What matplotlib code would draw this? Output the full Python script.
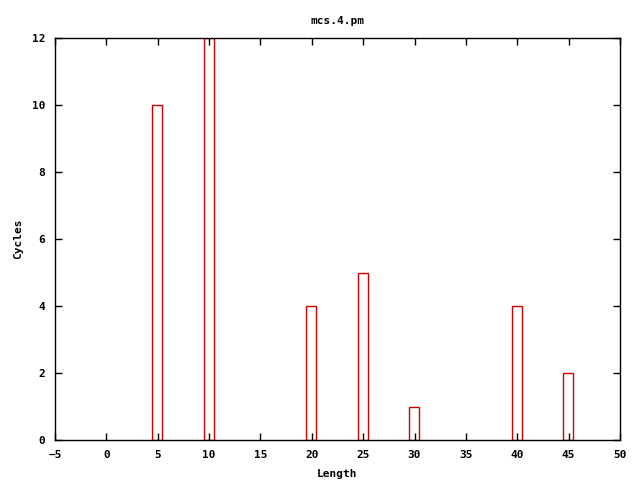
import matplotlib
matplotlib.use('Agg')
import matplotlib.pyplot as plt

# Lengths and cycle counts
lengths = [5, 10, 20, 25, 30, 40, 45]
cycles = [10, 12, 4, 5, 1, 4, 2]

xticks = list(range(-5, 51, 5))
yticks = list(range(0, 13, 2))

plt.rcParams['font.family'] = 'DejaVu Sans Mono'
plt.rcParams['font.weight'] = 'bold'
plt.rcParams['font.size'] = 8

fig = plt.figure(figsize=(6.4, 4.8), dpi=100)
ax = fig.add_axes([55 / 640, 1 - 440 / 480, 565 / 640, 402 / 480])

ax.bar([x - 0.05 for x in lengths], cycles, width=0.97, align='center', fill=False,
       edgecolor='#cc0000', linewidth=1.0, clip_on=True)

ax.set_xlim(-5, 50)
ax.set_ylim(0, 12)
ax.set_xticks(xticks)
ax.set_yticks(yticks)
ax.tick_params(direction='in', length=5, width=1, top=True, right=True,
               pad=7, labelsize=8)
for s in ax.spines.values():
    s.set_linewidth(1)

ax.set_xlabel('Length', fontweight='bold', labelpad=7)
ax.set_ylabel('Cycles', fontweight='bold', labelpad=6)
ax.set_title('mcs.4.pm', fontweight='bold', fontsize=8, pad=10)

fig.savefig('out.png', dpi=100)
